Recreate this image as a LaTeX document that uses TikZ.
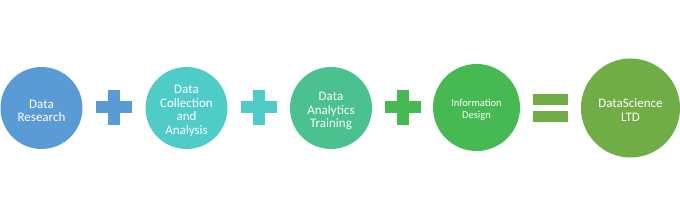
\documentclass[tikz,border=0pt]{standalone}
\usepackage{fontspec}
\setmainfont{Carlito}
\definecolor{cblue}{RGB}{91,155,213}
\definecolor{cteal}{RGB}{80,204,200}
\definecolor{cmint}{RGB}{74,193,142}
\definecolor{cgreen}{RGB}{70,185,82}
\definecolor{colive}{RGB}{112,173,71}
\tikzset{
  disc/.style={circle, fill=#1, draw=none, inner sep=0pt},
  caption/.style={inner sep=0pt, align=center, text=white, yshift=-3pt,
    font=\fontsize{13}{13.6}\selectfont},
  bar/.style={fill=#1, draw=none}
}
\begin{document}
\begin{tikzpicture}[x=1pt,y=-1pt]
\useasboundingbox[fill=white] (0,0) rectangle (680,216);
\node[disc=cblue, minimum size=82pt] (research) at (41.5,108) {};
\node[disc=cteal, minimum size=82pt] (collection) at (186.5,108) {};
\node[disc=cmint, minimum size=82pt] (analytics) at (331,108) {};
\node[disc=cgreen, minimum size=87pt] (design) at (476.5,107.5) {};
\node[disc=colive, minimum size=99pt] (ltd) at (630.5,108) {};
\node[caption] (tresearch) at (research.center) {Data\\Research};
\node[caption] (tcollection) at (collection.center) {Data\\Collection\\and\\Analysis};
\node[caption] (tanalytics) at (analytics.center) {Data\\Analytics\\Training};
\node[caption, yshift=1pt, font=\fontsize{10.5}{11.7}\selectfont] (tdesign) at (design.center) {Information\\Design};
\node[caption, yshift=1pt] (tltd) at (ltd.center) {DataScience\\LTD};
% plus signs
\coordinate (p1) at (114,107.5);
\coordinate (p2) at (258.5,107.5);
\coordinate (p3) at (403,107.5);
\foreach \c/\col in {p1/cblue, p2/cteal, p3/cgreen}{
  \fill[bar=\col] ([shift={(-18,-6)}]\c) rectangle ([shift={(18,6)}]\c);
  \fill[bar=\col] ([shift={(-6,-17.5)}]\c) rectangle ([shift={(6,17.5)}]\c);
}
% equals sign
\coordinate (eq) at (550.5,108);
\fill[bar=colive] ([shift={(-17.5,-14)}]eq) rectangle ([shift={(17.5,-3)}]eq);
\fill[bar=colive] ([shift={(-17.5,3)}]eq) rectangle ([shift={(17.5,14)}]eq);
\end{tikzpicture}
\end{document}
